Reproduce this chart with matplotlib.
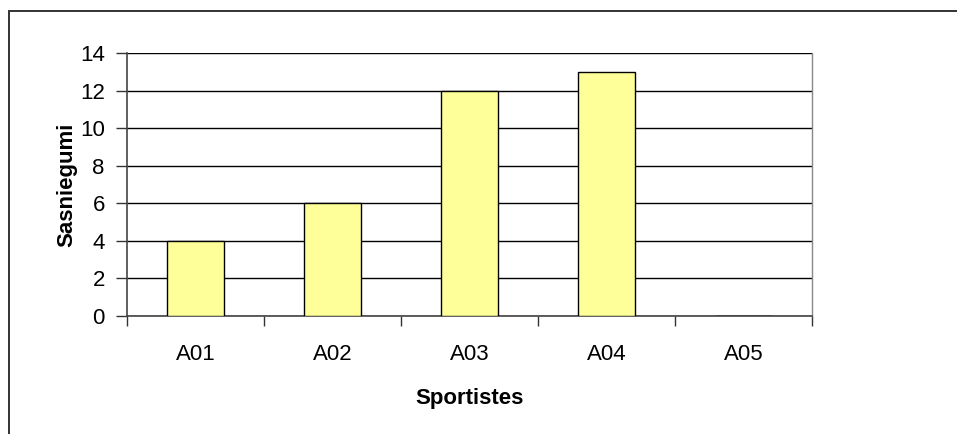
import matplotlib
matplotlib.use("Agg")
import matplotlib.pyplot as plt
from matplotlib.patches import Rectangle

categories = ["A01", "A02", "A03", "A04", "A05"]
values = [4, 6, 12, 13, 0]
y_ticks = [0, 2, 4, 6, 8, 10, 12, 14]

W, H = 957, 434
plt.rcParams["font.family"] = ["Liberation Sans", "DejaVu Sans"]

fig = plt.figure(figsize=(W / 100, H / 100), dpi=100)
# axes box in pixels: left 127, right 812, top 53, bottom 316
ax = fig.add_axes([127 / W, 1 - 316 / H, (812 - 127) / W, (316 - 53) / H])

x = list(range(len(categories)))
ax.bar(x, values, width=0.41, color="#FFFF99", edgecolor="black", linewidth=1, zorder=3)

ax.set_xlim(-0.5, len(categories) - 0.5)
ax.set_ylim(0, 14)
ax.set_yticks(y_ticks)
ax.yaxis.grid(True, color="black", linewidth=1, zorder=0)

ax.set_xticks(x)
ax.set_xticklabels(categories, fontsize=16)
ax.set_xticks([i - 0.5 for i in range(len(categories) + 1)], minor=True)
ax.tick_params(axis="x", which="major", length=0, pad=20)
ax.tick_params(axis="x", which="minor", length=7, width=1, color="#333333", direction="out")
ax.tick_params(axis="y", labelsize=16, length=8, width=1, color="#333333", direction="out", pad=8)

for side in ["left", "bottom"]:
    ax.spines[side].set_color("#444444")
    ax.spines[side].set_linewidth(1.2)
ax.spines["right"].set_color("#888888")
ax.spines["right"].set_linewidth(1)
ax.spines["top"].set_visible(False)

ax.set_xlabel("Sportistes", fontsize=16, fontweight="bold", labelpad=17)
ax.set_ylabel("Sasniegumi", fontsize=16, fontweight="bold", labelpad=2)

# chart frame (right and bottom sides fall outside the image)
fig.patches.append(Rectangle((9 / W, -0.1), 1.2, 1 - 11 / H + 0.1, transform=fig.transFigure,
                             fill=False, edgecolor="#333333", linewidth=1.4))

fig.savefig("out.png", dpi=100)
